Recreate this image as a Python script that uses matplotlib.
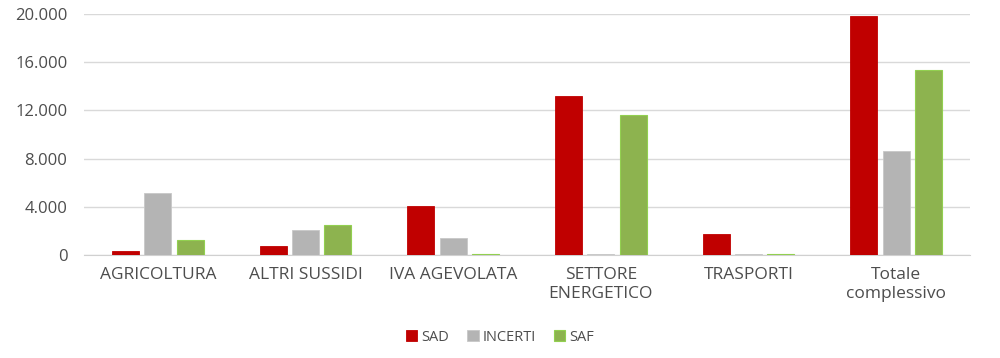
import numpy as np
import matplotlib.pyplot as plt
from matplotlib.ticker import FuncFormatter

categories = ["AGRICOLTURA", "ALTRI SUSSIDI", "IVA AGEVOLATA",
              "SETTORE\nENERGETICO", "TRASPORTI", "Totale\ncomplessivo"]
sad = [330, 715, 4080, 13200, 1725, 19800]
incerti = [5130, 2030, 1430, 40, 40, 8620]
saf = [1230, 2450, 100, 11650, 100, 15330]
yticks = [0, 4000, 8000, 12000, 16000, 20000]

plt.rcParams["font.family"] = ["Open Sans", "DejaVu Sans"]
text_color = "#4D4D4D"

fig = plt.figure(figsize=(10, 3.58), dpi=100)
ax = fig.add_axes([0.084, 0.288, 0.886, 0.673])

x = np.arange(len(categories))
w = 0.183
step = 0.22
ax.bar(x - step, sad, width=w, color="#C00000", edgecolor="#C00000", linewidth=0.6, label="SAD", zorder=3)
ax.bar(x, incerti, width=w, color="#B4B4B4", edgecolor="#C8C8C8", linewidth=0.6, label="INCERTI", zorder=3)
ax.bar(x + step, saf, width=w, color="#8DB34F", edgecolor="#92D050", linewidth=0.8, label="SAF", zorder=3)

ax.set_xlim(-0.5, len(categories) - 0.5)
ax.set_ylim(0, 20000)
ax.set_yticks(yticks)
ax.yaxis.set_major_formatter(FuncFormatter(lambda v, p: f"{int(v):,}".replace(",", ".")))
ax.set_xticks(x)
ax.set_xticklabels(categories, linespacing=1.2)
ax.grid(axis="y", color="#D9D9D9", linewidth=1, zorder=0)
for s in ["top", "right", "left"]:
    ax.spines[s].set_visible(False)
ax.spines["bottom"].set_color("#D0D0D0")
ax.tick_params(axis="both", length=0, colors=text_color)
ax.tick_params(axis="x", pad=9, labelsize=12.5)
ax.tick_params(axis="y", pad=12, labelsize=12)

fig.legend(loc="lower center", bbox_to_anchor=(0.5, 0.0), ncol=3, frameon=False,
           fontsize=10.5, labelcolor=text_color, handlelength=0.8, handleheight=0.8,
           handletextpad=0.3, columnspacing=1.2)

fig.savefig("out.png", dpi=100, facecolor="white")
